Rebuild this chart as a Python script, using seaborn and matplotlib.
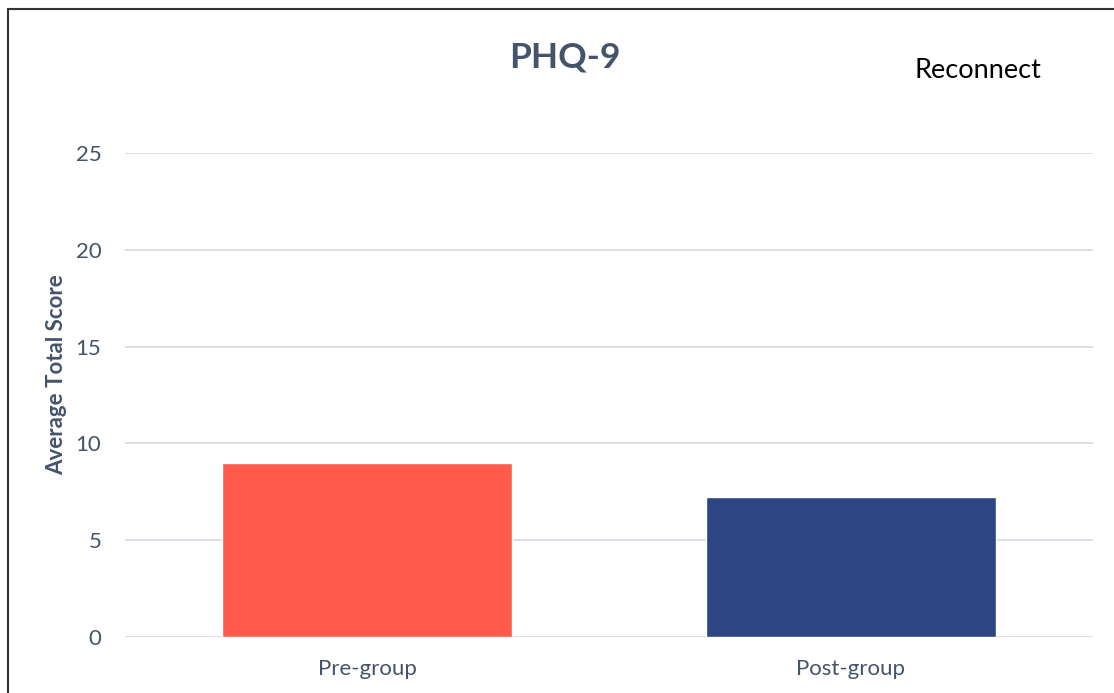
import numpy as np
import pandas as pd
import seaborn as sns
import matplotlib.pyplot as plt
from matplotlib.lines import Line2D

# data
groups = ["Pre-group", "Post-group"]
scores = [9.0, 7.25]
bar_colors = ["#FF5A4B", "#2D4583"]

textcolor = "#44546A"
gridcolor = "#D9DEE5"

sns.set_theme(style="white")
plt.rcParams['font.family'] = ['Lato', 'DejaVu Sans']

df = pd.DataFrame({"group": groups, "score": scores})

fig = plt.figure(figsize=(11.14, 6.93), dpi=100)
ax = fig.add_axes([125/1114, 56/693, 968/1114, 484/693])

sns.barplot(data=df, x="group", y="score", hue="group", palette=bar_colors,
            width=0.6, saturation=1, legend=False, ax=ax, zorder=3)

ax.set_ylim(0, 25)
ax.set_yticks([0, 5, 10, 15, 20, 25])
ax.set_xlim(-0.5, 1.5)
ax.yaxis.grid(True, color=gridcolor, linewidth=1.4, zorder=0)
ax.set_axisbelow(True)
for s in ['top', 'right', 'left', 'bottom']:
    ax.spines[s].set_visible(False)
ax.tick_params(axis='both', length=0, labelsize=16, labelcolor=textcolor)
ax.tick_params(axis='y', pad=17)
ax.tick_params(axis='x', pad=16)
ax.set_xlabel("")
ax.set_ylabel("")

fig.text(57/1114, 1 - 375/693, "Average Total Score", fontsize=16, fontweight='bold', color=textcolor,
         ha='center', va='center', rotation=90)
fig.text(565/1114, 1 - 58/693, "PHQ-9", fontsize=25.5, fontweight='bold', color=textcolor,
         ha='center', va='center')
fig.text(978/1114, 1 - 70/693, "Reconnect", fontsize=19.5, color="black",
         ha='center', va='center')

# frame lines (left and top)
fig.add_artist(Line2D([8/1114, 8/1114], [0, 1 - 9/693], transform=fig.transFigure, color="#333333", linewidth=1.5))
fig.add_artist(Line2D([8/1114, 1], [1 - 9/693, 1 - 9/693], transform=fig.transFigure, color="#333333", linewidth=1.5))

fig.savefig("out.png", dpi=100)
